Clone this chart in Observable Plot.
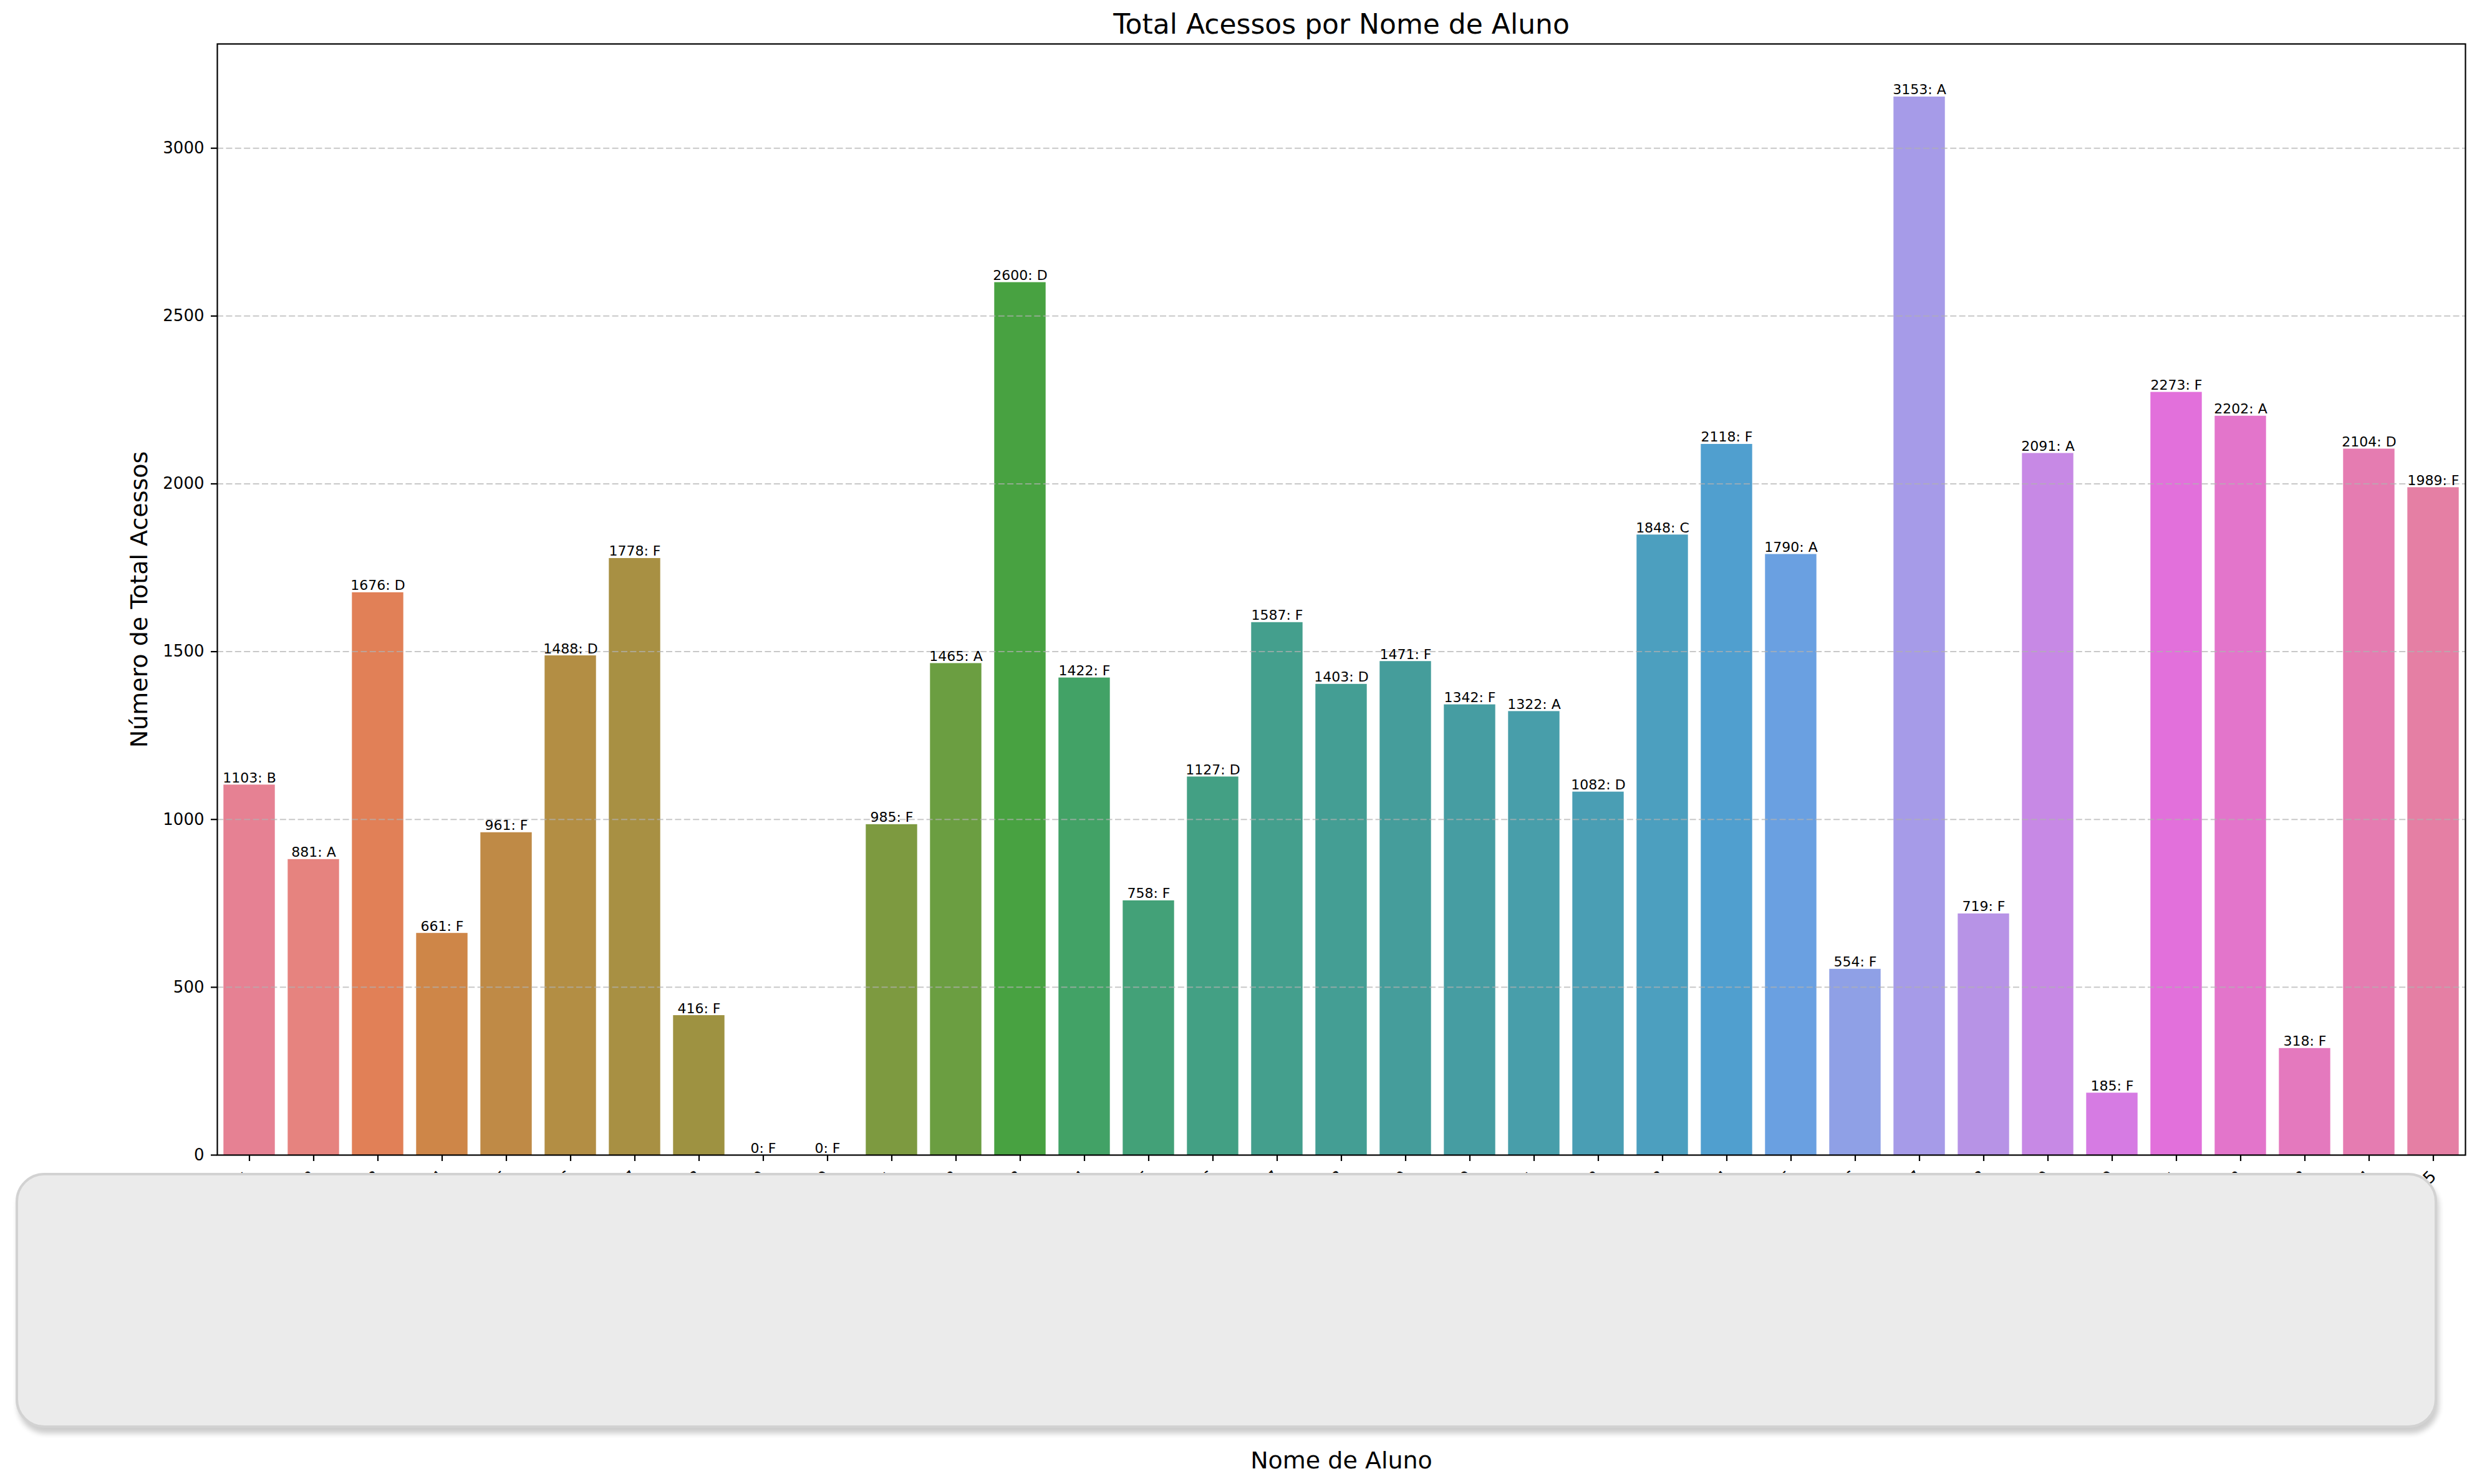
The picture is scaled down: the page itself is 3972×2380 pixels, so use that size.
<!DOCTYPE html>
<html>
<head>
<meta charset="utf-8">
<script src="https://cdn.jsdelivr.net/npm/d3@7"></script>
<script src="https://cdn.jsdelivr.net/npm/@observablehq/plot@0.6"></script>
<style>
  html, body { margin: 0; padding: 0; background: #ffffff; }
  #wrap { position: relative; width: 3972px; height: 2380px; overflow: hidden; font-family: "DejaVu Sans", sans-serif; }
  #redact {
    position: absolute; left: 25px; top: 1881px; width: 3883px; height: 409px;
    box-sizing: border-box; background: #ebebeb; border: 4px solid #d2d2d2;
    border-radius: 46px; box-shadow: 3px 9px 8px rgba(0,0,0,0.20);
  }
</style>
</head>
<body>
<div id="wrap"></div>
<script>
// ---- data ----
const names = ["Aluno 1","Aluno 2","Aluno 3","Aluno 4","Aluno 5","Aluno 6","Aluno 7","Aluno 8","Aluno 9","Aluno 10",
  "Aluno 11","Aluno 12","Aluno 13","Aluno 14","Aluno 15","Aluno 16","Aluno 17","Aluno 18","Aluno 19","Aluno 20",
  "Aluno 21","Aluno 22","Aluno 23","Aluno 24","Aluno 25","Aluno 26","Aluno 27","Aluno 28","Aluno 29","Aluno 30",
  "Aluno 31","Aluno 32","Aluno 33","Aluno 34","Aluno 35"];
const acessos = [1103, 881, 1676, 661, 961, 1488, 1778, 416, 0, 0,
  985, 1465, 2600, 1422, 758, 1127, 1587, 1403, 1471, 1342,
  1322, 1082, 1848, 2118, 1790, 554, 3153, 719, 2091, 185,
  2273, 2202, 318, 2104, 1989];
const conceitos = ["B","A","D","F","F","D","F","F","F","F",
  "F","A","D","F","F","D","F","D","F","F",
  "A","D","C","F","A","F","A","F","A","F",
  "F","A","F","D","F"];
const yTicks = [0, 500, 1000, 1500, 2000, 2500, 3000];
const titulo = "Total Acessos por Nome de Aluno";
const rotuloX = "Nome de Aluno";
const rotuloY = "Número de Total Acessos";

const rows = names.map((n, i) => ({name: n, value: acessos[i], grade: conceitos[i]}));

// ---- seaborn "husl" palette (desaturated 0.75 as in barplot) ----
const HM = [[3.2406, -1.5372, -0.4986], [-0.9689, 1.8758, 0.0415], [0.0557, -0.2040, 1.0570]];
function maxChroma(L, H) {
  const hr = H * Math.PI / 180, sinH = Math.sin(hr), cosH = Math.cos(hr);
  const sub1 = Math.pow(L + 16, 3) / 1560896;
  const sub2 = sub1 > 0.008856 ? sub1 : L / 903.3;
  let res = Infinity;
  for (const [m1, m2, m3] of HM) {
    const top = (0.99915 * m1 + 1.05122 * m2 + 1.14460 * m3) * sub2;
    const rb = 0.86330 * m3 - 0.17266 * m2;
    const lb = 0.12949 * m3 - 0.38848 * m1;
    const bottom = (rb * sinH + lb * cosH) * sub2;
    for (const t of [0, 1]) {
      const C = L * (top - 1.05122 * t) / (bottom + 0.17266 * sinH * t);
      if (C > 0 && C < res) res = C;
    }
  }
  return res;
}
function huslToRgb(H, S, L) {
  const C = maxChroma(L, H) / 100 * S;
  const hr = H * Math.PI / 180;
  const U = Math.cos(hr) * C, V = Math.sin(hr) * C;
  const t = (L + 16) / 116;
  const varY = Math.pow(t, 3) > 0.008856 ? Math.pow(t, 3) : (116 * t - 16) / 903.3;
  const varU = U / (13 * L) + 0.19784, varV = V / (13 * L) + 0.46834;
  const Y = varY;
  const X = -(9 * Y * varU) / ((varU - 4) * varV - varU * varV);
  const Z = (9 * Y - 15 * varV * Y - varV * X) / (3 * varV);
  return HM.map(([a, b, c]) => {
    const v = a * X + b * Y + c * Z;
    const g = v <= 0.0031308 ? 12.92 * v : 1.055 * Math.pow(v, 1 / 2.4) - 0.055;
    return Math.min(1, Math.max(0, g));
  });
}
function huslPalette(n) {
  const out = [];
  for (let i = 0; i < n; i++) {
    const h = ((i / n + 0.01) % 1) * 359;
    const [r, g, b] = huslToRgb(h, 0.9 * 99, 0.65 * 99);
    const c = d3.hsl(d3.rgb(r * 255, g * 255, b * 255));
    c.s *= 0.75;
    out.push(c.formatHex());
  }
  return out;
}
const palette = huslPalette(names.length);

// ---- layout ----
const W = 3972, H = 2380;
const mTop = 70, mBottom = 528, mLeft = 348, mRight = 19;
const font = "DejaVu Sans, sans-serif";

const chart = Plot.plot({
  width: W, height: H,
  marginTop: mTop, marginBottom: mBottom, marginLeft: mLeft, marginRight: mRight,
  style: {fontFamily: font, background: "white", color: "black", overflow: "visible"},
  x: {type: "band", domain: names, paddingInner: 0.2, paddingOuter: 0.1, round: false, axis: null},
  y: {domain: [0, 3153 * 1.05], axis: null},
  color: {type: "ordinal", domain: names, range: palette},
  marks: [
    Plot.barY(rows, {x: "name", y: "value", fill: "name"}),
    Plot.ruleY(yTicks.slice(1), {stroke: "#b0b0b0", strokeOpacity: 0.7, strokeWidth: 2, strokeDasharray: "10,4.4"}),
    Plot.text(rows, {x: "name", y: "value", text: d => `${d.value}: ${d.grade}`, lineAnchor: "bottom", dy: -4, fontSize: 22, fill: "black"}),
    Plot.axisY({ticks: yTicks, tickSize: 10, tickPadding: 11, fontSize: 26, label: null, strokeWidth: 2.2, tickFormat: d => String(d)}),
    Plot.axisX({tickSize: 10, tickPadding: 20, tickRotate: -45, fontSize: 26, label: null, strokeWidth: 2.2}),
    Plot.frame({stroke: "black", strokeWidth: 2.2}),
    Plot.text([titulo], {frameAnchor: "top", textAnchor: "middle", lineAnchor: "bottom", dy: -17, fontSize: 44, fill: "black"}),
    Plot.text([rotuloX], {frameAnchor: "bottom", textAnchor: "middle", lineAnchor: "bottom", dy: 502, fontSize: 38, fill: "black"}),
    Plot.text([rotuloY], {frameAnchor: "left", textAnchor: "middle", lineAnchor: "middle", rotate: -90, dx: -125, fontSize: 38, fill: "black"})
  ]
});

const wrap = document.getElementById("wrap");
wrap.appendChild(chart);
const box = document.createElement("div");
box.id = "redact";
wrap.appendChild(box);
</script>
</body>
</html>
